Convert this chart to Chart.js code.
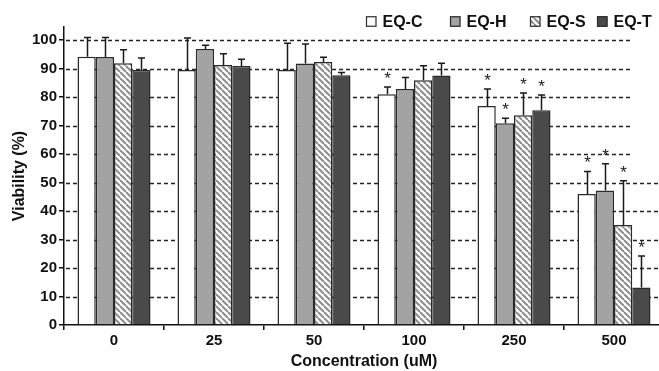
<!DOCTYPE html>
<html>
<head>
<meta charset="utf-8">
<script src="https://cdn.jsdelivr.net/npm/chart.js@4/dist/chart.umd.min.js"></script>
<style>
  html, body { margin: 0; padding: 0; background: #fff; overflow: hidden; }
  #wrap { width: 664px; height: 371px; }
</style>
</head>
<body>
<div id="wrap"><canvas id="c" width="664" height="371"></canvas></div>
<script>
// ---- data ----
const categories = ['0', '25', '50', '100', '250', '500'];
const seriesNames = ['EQ-C', 'EQ-H', 'EQ-S', 'EQ-T'];
const eqC = [94.2, 89.5, 89.5, 81.0, 76.9, 46.0];
const eqH = [94.1, 96.9, 91.8, 82.8, 70.8, 47.2];
const eqS = [91.9, 91.3, 92.3, 85.9, 73.6, 35.1];
const eqT = [89.5, 90.9, 87.7, 87.6, 75.4, 13.2];
const errC = [6.7, 11.2, 9.4, 2.5, 5.9, 7.9];
const errH = [6.8, 1.3, 6.8, 4.1, 1.8, 9.4];
const errS = [4.7, 3.9, 1.7, 5.1, 7.8, 15.5];
const errT = [4.2, 2.4, 0.9, 4.3, 5.3, 11.0];
const sigC = [false, false, false, true, true, true];
const sigH = [false, false, false, false, true, true];
const sigS = [false, false, false, false, true, true];
const sigT = [false, false, false, false, true, true];
const yTickValues = [0, 10, 20, 30, 40, 50, 60, 70, 80, 90, 100];
const xTitle = 'Concentration (uM)';
const yTitle = 'Viability (%)';

const FONT = "'Liberation Sans', Arial, sans-serif";

// hatch pattern for EQ-S
function makeHatch() {
  const s = 6;
  const pc = document.createElement('canvas');
  pc.width = s; pc.height = s;
  const p = pc.getContext('2d');
  p.fillStyle = '#ffffff';
  p.fillRect(0, 0, s, s);
  p.strokeStyle = '#8c8c8c';
  p.lineWidth = 2;
  p.beginPath();
  for (let k = -1; k <= 1; k++) {
    p.moveTo(k * s, 0);
    p.lineTo(k * s + s, s);
  }
  p.stroke();
  return p.createPattern(pc, 'repeat');
}
const ctx0 = document.getElementById('c').getContext('2d');
const hatch = makeHatch();

const fills = ['#ffffff', '#a3a3a3', hatch, '#4a4a4a'];
const values = [eqC, eqH, eqS, eqT];
const errs = [errC, errH, errS, errT];
const sigs = [sigC, sigH, sigS, sigT];

const datasets = seriesNames.map((n, i) => ({
  label: n,
  data: values[i],
  backgroundColor: fills[i],
  borderColor: '#2a2a2a',
  borderWidth: 1.5,
  errors: errs[i],
  sig: sigs[i]
}));

// dashed gridlines
const gridPlugin = {
  id: 'dashGrid',
  beforeDatasetsDraw(chart) {
    const {ctx, chartArea, scales: {y}} = chart;
    ctx.save();
    ctx.strokeStyle = '#222';
    ctx.lineWidth = 1.6;
    ctx.setLineDash([4, 3]);
    yTickValues.forEach(v => {
      if (v === 0) return;
      const py = Math.round(y.getPixelForValue(v)) + 0.5;
      const end = v > 50 ? chartArea.right - 31 : chartArea.right;
      ctx.beginPath();
      ctx.moveTo(chartArea.left + 2, py);
      ctx.lineTo(end, py);
      ctx.stroke();
    });
    ctx.restore();
  }
};

// error bars + significance stars
const errPlugin = {
  id: 'errBars',
  afterDatasetsDraw(chart) {
    const {ctx, scales: {y}} = chart;
    ctx.save();
    ctx.strokeStyle = '#1a1a1a';
    ctx.lineWidth = 1.5;
    chart.data.datasets.forEach((ds, di) => {
      const meta = chart.getDatasetMeta(di);
      meta.data.forEach((bar, i) => {
        const v = ds.data[i];
        const top = y.getPixelForValue(v + ds.errors[i]);
        const x = Math.round(bar.x) + 0.5;
        ctx.beginPath();
        ctx.moveTo(x, bar.y);
        ctx.lineTo(x, top);
        ctx.moveTo(x - 3.5, top);
        ctx.lineTo(x + 3.5, top);
        ctx.stroke();
        if (ds.sig[i]) {
          ctx.fillStyle = '#1a1a1a';
          ctx.font = '17px ' + FONT;
          ctx.textAlign = 'center';
          ctx.textBaseline = 'alphabetic';
          ctx.fillText('*', x, top - 3);
        }
      });
    });
    ctx.restore();
  }
};

// legend (item start positions follow the reference's irregular spacing)
const legendPlugin = {
  id: 'customLegend',
  afterDraw(chart) {
    const {ctx} = chart;
    const starts = [366, 450, 530, 597];
    ctx.save();
    ctx.font = 'bold 16px ' + FONT;
    ctx.textBaseline = 'middle';
    ctx.textAlign = 'left';
    const box = 10.5, gapBT = 6, cy = 21.5;
    chart.data.datasets.forEach((ds, i) => {
      const x = starts[i];
      ctx.fillStyle = ds.backgroundColor;
      ctx.fillRect(x, cy - box / 2, box, box);
      ctx.strokeStyle = '#2a2a2a';
      ctx.lineWidth = 1.2;
      ctx.strokeRect(x + 0.5, cy - box / 2 + 0.5, box - 1, box - 1);
      ctx.fillStyle = '#111';
      ctx.fillText(ds.label, x + box + gapBT, cy + 1);
    });
    ctx.restore();
  }
};

new Chart(ctx0, {
  type: 'bar',
  data: { labels: categories, datasets },
  plugins: [gridPlugin, errPlugin, legendPlugin],
  options: {
    responsive: false,
    animation: false,
    layout: { padding: { top: 27, left: 0, right: 0, bottom: 0 } },
    datasets: { bar: { categoryPercentage: 0.73, barPercentage: 1.0 } },
    plugins: { legend: { display: false }, tooltip: { enabled: false } },
    scales: {
      x: {
        afterFit(s) { s.height = 46; },
        grid: { offset: true, drawOnChartArea: false, drawTicks: true, tickLength: 5, color: '#111', lineWidth: 1.5 },
        border: { color: '#111', width: 1.5 },
        ticks: { color: '#111', font: { family: FONT, size: 15, weight: 'bold' }, padding: 2 },
        title: { display: true, text: xTitle, color: '#111', font: { family: FONT, size: 16, weight: 'bold' }, padding: { top: 0, bottom: 0 } }
      },
      y: {
        min: 0,
        max: 104.6,
        afterFit(s) { s.width = 64; },
        afterBuildTicks(s) { s.ticks = yTickValues.map(v => ({ value: v })); },
        grid: { drawOnChartArea: false, drawTicks: true, tickLength: 5, color: '#111', lineWidth: 1.5 },
        border: { color: '#111', width: 1.5 },
        ticks: { color: '#111', font: { family: FONT, size: 15, weight: 'bold' }, padding: 2 },
        title: { display: true, text: yTitle, color: '#111', font: { family: FONT, size: 16, weight: 'bold' }, padding: { top: 10, bottom: 0 } }
      }
    }
  }
});
</script>
</body>
</html>
